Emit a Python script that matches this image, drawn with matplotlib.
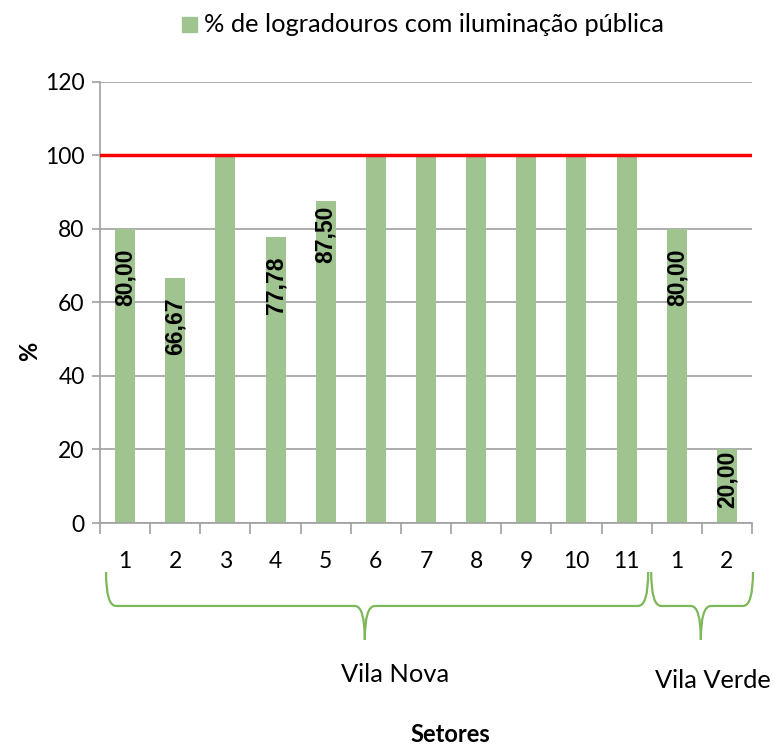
import matplotlib
matplotlib.use("Agg")
import matplotlib.pyplot as plt
import matplotlib.transforms as mtransforms
from matplotlib.path import Path
from matplotlib.patches import PathPatch, Rectangle

# data
setores = ["1", "2", "3", "4", "5", "6", "7", "8", "9", "10", "11", "1", "2"]
iluminacao = [80.00, 66.67, 100, 77.78, 87.50, 100, 100, 100, 100, 100, 100, 80.00, 20.00]
rotulos = ["80,00", "66,67", "", "77,78", "87,50", "", "", "", "", "", "", "80,00", "20,00"]
grupos = ["Vila Nova", "Vila Verde"]
meta = 100

plt.rcParams['font.family'] = ['Lato', 'DejaVu Sans']

bar_color = '#A0C490'
brace_color = '#7DB85A'
grid_color = '#A0A0A0'

W, H = 774, 748
fig = plt.figure(figsize=(W / 100, H / 100), dpi=100)
# plot area: x 100..752 px, y 81.7..523 px
ax = fig.add_axes([100 / W, 1 - 523 / H, 652 / W, 441.3 / H])

x = list(range(len(setores)))
ax.bar(x, iluminacao, width=0.4, color=bar_color, zorder=2)
ax.axhline(meta, color='#FF0000', lw=2.5, zorder=4)

# label nudges (points) - excel placed these by hand
nudge = {4: -3}
for xi, v, lab in zip(x, iluminacao, rotulos):
    if not lab:
        continue
    if v < 30:
        ax.annotate(lab, (xi, 0), xytext=(0, 11), textcoords='offset points',
                    rotation=90, ha='center', va='bottom', fontsize=16.5,
                    fontweight='bold', family='Liberation Sans', zorder=5)
    else:
        ax.annotate(lab, (xi, v), xytext=(0, nudge.get(xi, -14)),
                    textcoords='offset points',
                    rotation=90, ha='center', va='top', fontsize=16.5,
                    fontweight='bold', family='Liberation Sans', zorder=5)

ax.set_xlim(-0.5, len(setores) - 0.5)
ax.set_ylim(0, 120)
ax.set_yticks(range(0, 121, 20))
ax.yaxis.grid(True, color=grid_color, lw=1.2, zorder=0)
ax.tick_params(axis='y', length=6, color=grid_color, width=1.2, labelsize=16.5, pad=5)

ax.set_xticks(x)
ax.set_xticklabels(setores)
ax.tick_params(axis='x', which='major', length=0, labelsize=16.5, pad=20)
ax.set_xticks([i - 0.5 for i in range(len(setores) + 1)], minor=True)
ax.tick_params(axis='x', which='minor', length=8, color=grid_color, width=1.2)

for s in ['top', 'right']:
    ax.spines[s].set_visible(False)
for s in ['left', 'bottom']:
    ax.spines[s].set_color(grid_color)
    ax.spines[s].set_linewidth(1.2)

fig.text(30 / W, 1 - 351 / H, '%', rotation=90, ha='center', va='center',
         fontsize=17, fontweight='bold')

# braces under the groups (x in category units, y in axes fraction)
trans = mtransforms.blended_transform_factory(ax.transData, ax.transAxes)
braces = [(-0.38, 10.43, 4.78), (10.49, 12.52, 11.48)]
y_top, y_h, y_tip = -0.111, -0.188, -0.265
r = 0.2
for x0, x1, xt in braces:
    verts = [(x0, y_top), (x0, y_h), (x0 + r, y_h),
             (xt - r, y_h), (xt, y_h), (xt, y_tip),
             (xt, y_h), (xt + r, y_h),
             (x1 - r, y_h), (x1, y_h), (x1, y_top)]
    codes = [Path.MOVETO, Path.CURVE3, Path.CURVE3,
             Path.LINETO, Path.CURVE3, Path.CURVE3,
             Path.CURVE3, Path.CURVE3,
             Path.LINETO, Path.CURVE3, Path.CURVE3]
    ax.add_patch(PathPatch(Path(verts, codes), fill=False, edgecolor=brace_color,
                           lw=1.6, transform=trans, clip_on=False))

fig.text(395 / W, 1 - 675 / H, grupos[0], ha='center', va='center', fontsize=18.3)
fig.text(713 / W, 1 - 680 / H, grupos[1], ha='center', va='center', fontsize=18.3)
fig.text(450 / W, 1 - 735 / H, 'Setores', ha='center', va='center',
         fontsize=17, fontweight='bold')

# legend
fig.patches.append(Rectangle((182 / W, 1 - 32 / H), 15 / W, 15 / H,
                             transform=fig.transFigure, color=bar_color))
fig.text(204 / W, 1 - 25 / H, '% de logradouros com iluminação pública',
         ha='left', va='center', fontsize=18.3)

fig.savefig('out.png', dpi=100)
